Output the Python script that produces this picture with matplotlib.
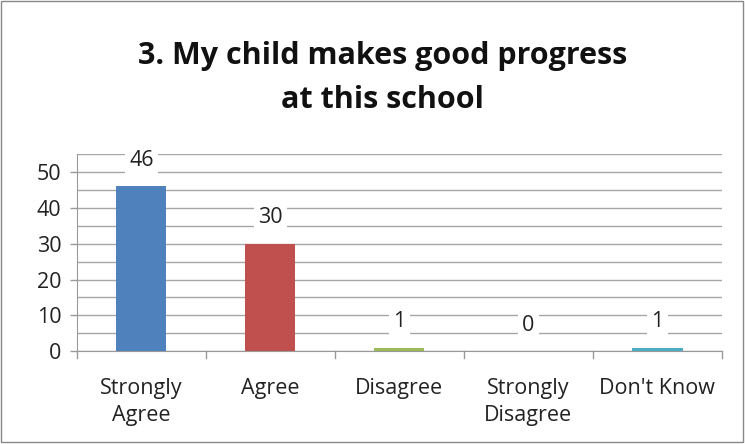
import matplotlib.pyplot as plt

categories = ["Strongly\nAgree", "Agree", "Disagree", "Strongly\nDisagree", "Don't Know"]
counts = [46, 30, 1, 0, 1]
colours = ["#4F81BD", "#C0504D", "#9BBB59", "#8064A2", "#4BACC6"]

plt.rcParams['font.family'] = ['Open Sans', 'DejaVu Sans']

fig = plt.figure(figsize=(7.45, 4.44), dpi=100)
ax = fig.add_axes([0.103, 0.209, 0.866, 0.444])

x = range(len(categories))
ax.bar(x, counts, width=0.39, color=colours, zorder=3)

for i, v in enumerate(counts):
    ax.text(i, v + 7.2, str(v), ha='center', va='center', fontsize=15.5, color='#222222',
            bbox=dict(facecolor='white', edgecolor='none', pad=3), zorder=4)

ax.set_xlim(-0.5, len(categories) - 0.5)
ax.set_ylim(0, 55)
ax.set_yticks(range(0, 51, 10))
ax.set_yticks(range(5, 56, 5), minor=True)
ax.set_xticks(x)
ax.set_xticklabels(categories, fontsize=15.5, color='#222222', linespacing=1.4)
ax.tick_params(axis='y', labelsize=15.5, length=5, width=1, direction='out', pad=6)
ax.tick_params(axis='y', which='minor', length=0)
ax.tick_params(axis='x', length=0, pad=19)
for xb in [i - 0.5 for i in range(len(categories) + 1)]:
    ax.plot([xb, xb], [0, -1.8], color='#999999', lw=1, clip_on=False)

ax.grid(axis='y', which='both', color='#A6A6A6', lw=1, zorder=0)
for s in ['top', 'right']:
    ax.spines[s].set_visible(False)
ax.spines['left'].set_color('#999999')
ax.spines['bottom'].set_color('#999999')
ax.tick_params(axis='y', colors='#999999', labelcolor='#222222')

fig.text(0.513, 0.825, "3. My child makes good progress\nat this school", ha='center', va='center',
         fontsize=22, fontweight='bold', color='#111111', linespacing=1.6)

fig.patches.append(plt.Rectangle((0.002, 0.004), 0.995, 0.993, transform=fig.transFigure,
                                 fill=False, edgecolor='#888888', lw=1))

fig.savefig("out.png", dpi=100)
